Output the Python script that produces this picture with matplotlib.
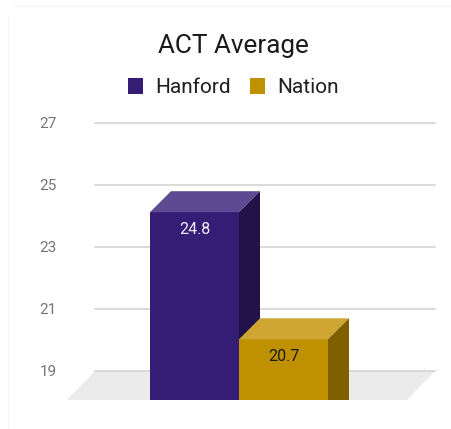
import matplotlib
matplotlib.use('Agg')
import matplotlib.pyplot as plt
from matplotlib.patches import Polygon, Rectangle

# data
categories = ['Hanford', 'Nation']
values = [24.8, 20.7]
y_ticks = [19, 21, 23, 25, 27]
front_colors = ['#351c75', '#bf9000']
top_colors = ['#5d4a92', '#cfa634']
side_colors = ['#21134a', '#7f6000']
label_colors = ['#f2f0f7', '#1a1a1a']

plt.rcParams['font.family'] = ['Roboto', 'DejaVu Sans']

W, H = 451, 429
PX = 31.0        # pixels per unit on the value axis
BASE = 19        # axis minimum
BASE_PX = 371    # pixel row of the axis minimum


def fx(p):
    return p / W


def fy(p):
    return 1 - p / H


fig = plt.figure(figsize=(W / 100, H / 100), dpi=100)
ax = fig.add_axes([0, 0, 1, 1])
ax.set_xlim(0, W)
ax.set_ylim(BASE - (H - BASE_PX) / PX, BASE + BASE_PX / PX)
ax.axis('off')

# faint card border
fig.add_artist(plt.Line2D([fx(15), fx(451)], [fy(6), fy(6)], color='#f4f4f4', lw=1))
fig.add_artist(plt.Line2D([fx(8), fx(8)], [fy(17), fy(429)], color='#f6f6f6', lw=1))

# floor of the 3d chart
floor_depth = 29 / PX
floor_front = BASE - floor_depth
ax.add_patch(Polygon([(95, BASE), (435, BASE), (435 - 28, floor_front), (95 - 28, floor_front)],
                     closed=True, facecolor='#ebebeb', edgecolor='none', zorder=0))

# gridlines + tick labels
for t in y_ticks:
    ax.plot([95, 435], [t, t], color='#cfcfcf', lw=1.1, zorder=1)
    ax.text(57, t - 5.5 / PX, str(t), ha='right', va='baseline', fontsize=11, color='#757575')

# bars
bar_w = 89
dx = 21
dyv = 21 / PX
for i, (cat, v) in enumerate(zip(categories, values)):
    x0 = 150 + i * bar_w
    ft = v - dyv
    ax.add_patch(Rectangle((x0, floor_front), bar_w, ft - floor_front,
                           facecolor=front_colors[i], edgecolor='none', zorder=3 + i))
    ax.add_patch(Polygon([(x0, ft), (x0 + bar_w, ft), (x0 + bar_w + dx, v), (x0 + dx, v)],
                         closed=True, facecolor=top_colors[i], edgecolor='none', zorder=3 + i))
    ax.add_patch(Polygon([(x0 + bar_w, ft), (x0 + bar_w + dx, v), (x0 + bar_w + dx, floor_front),
                          (x0 + bar_w, floor_front)],
                         closed=True, facecolor=side_colors[i], edgecolor='none', zorder=3 + i))
    ax.text(x0 + bar_w / 2, ft - 21.5 / PX, f'{v:.1f}', ha='center', va='baseline',
            fontsize=11.5, color=label_colors[i], zorder=10)

# title
fig.text(fx(233), fy(53), 'ACT Average', ha='center', va='baseline', fontsize=18.8, color='#1a1a1a')

# legend
leg_x = [128, 250]
for i, cat in enumerate(categories):
    fig.add_artist(Rectangle((fx(leg_x[i]), fy(94)), 15 / W, 16 / H, transform=fig.transFigure,
                             facecolor=front_colors[i], edgecolor='none'))
    fig.text(fx(leg_x[i] + 27), fy(93), cat, ha='left', va='baseline', fontsize=15, color='#1f1f1f')

fig.savefig('out.png', dpi=100)
